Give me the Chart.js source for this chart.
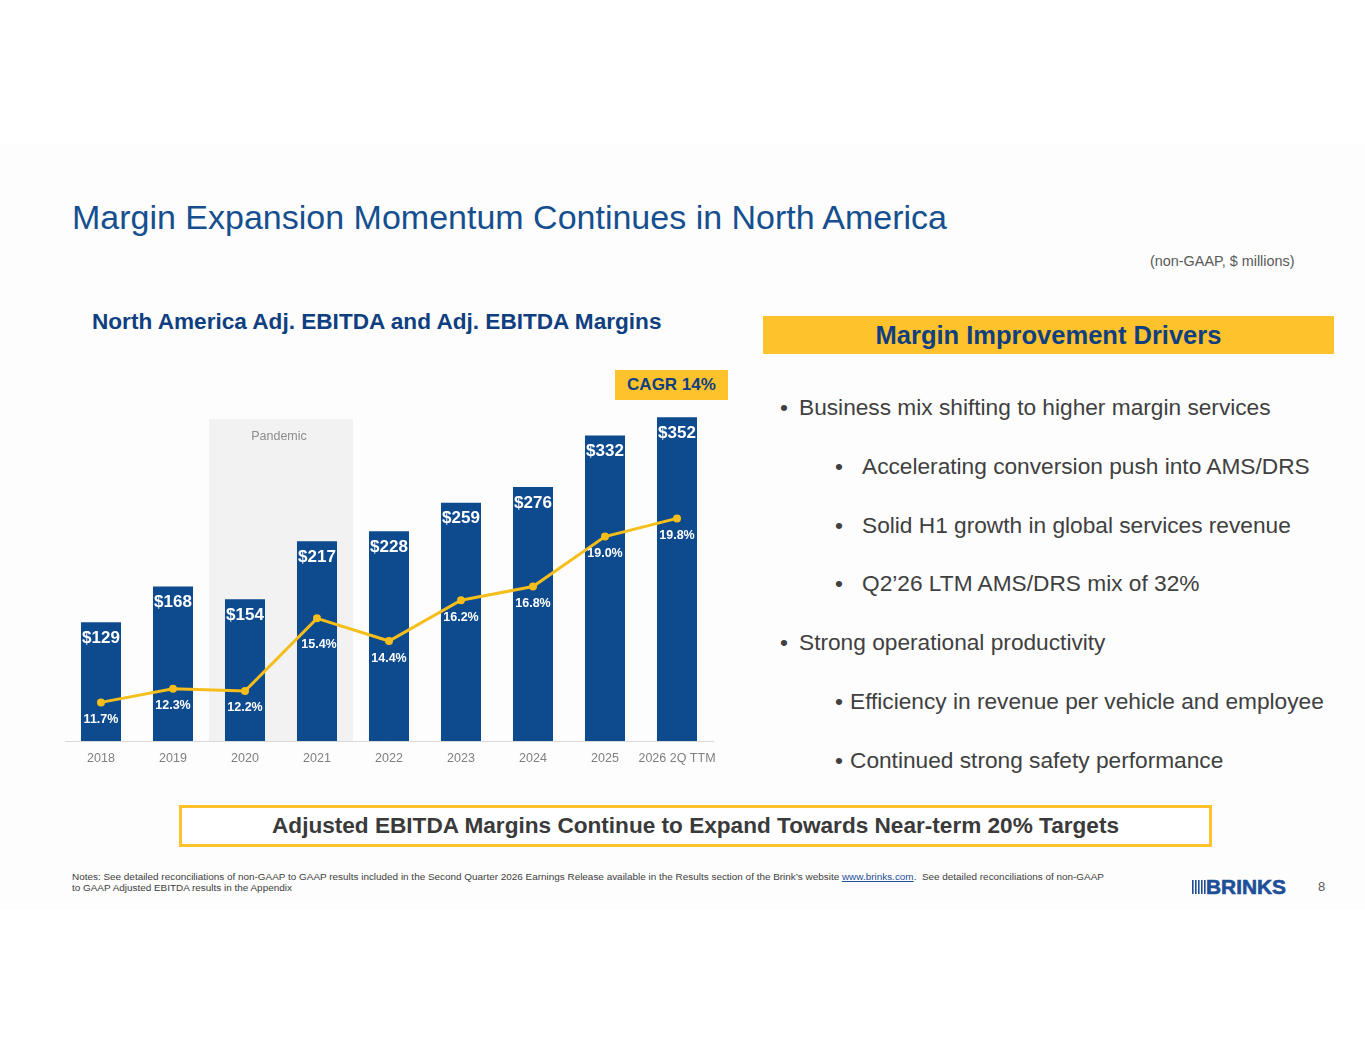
<!DOCTYPE html>
<html>
<head>
<meta charset="utf-8">
<script src="https://cdn.jsdelivr.net/npm/chart.js@4.4.1/dist/chart.umd.min.js"></script>
<style>
  html, body { margin:0; padding:0; background:#ffffff; }
  body { width:1365px; height:1055px; position:relative; overflow:hidden; font-family:"Liberation Sans", Arial, sans-serif; }
  .slide { position:absolute; left:0; top:145px; width:1365px; height:765px; background:#fcfdfc; }
  .abs { position:absolute; white-space:nowrap; }
  #title { left:72px; top:198px; font-size:34px; color:#164f8f; }
  #units { left:1150px; top:253px; font-size:14.4px; color:#595959; }
  #subtitle { left:92px; top:309px; font-size:22.6px; font-weight:bold; color:#0f3f80; }
  #drivers { left:763px; top:316px; width:571px; height:38px; background:#fdc22c; color:#0f3f80; font-weight:bold; font-size:25.5px; text-align:center; line-height:38px; }
  #cagr { left:615px; top:370px; width:113px; height:30px; background:#fdc22c; color:#0f3f80; font-weight:bold; font-size:17px; text-align:center; line-height:30px; }
  .bul { position:absolute; white-space:nowrap; font-size:22.7px; color:#404040; }
  .bul .dot { position:absolute; }
  #chartBox { position:absolute; left:61px; top:369px; width:672px; height:407px; }
  #bottomBox { left:179px; top:805px; width:1027px; height:36px; border:3px solid #fdc22c; background:#ffffff; text-align:center; line-height:36px; font-weight:bold; font-size:22.6px; color:#3a3a3a; }
  #notes { left:72px; top:871px; font-size:9.93px; color:#404040; line-height:11px; }
  #notes a { color:#1f4e99; text-decoration:underline; }
  #logo { left:1192px; top:877px; height:20px; }
  #page { left:1318px; top:879px; font-size:13px; color:#595959; }
</style>
</head>
<body>
<div class="slide"></div>
<div class="abs" id="title">Margin Expansion Momentum Continues in North America</div>
<div class="abs" id="units">(non-GAAP, $ millions)</div>
<div class="abs" id="subtitle">North America Adj. EBITDA and Adj. EBITDA Margins</div>
<div class="abs" id="drivers">Margin Improvement Drivers</div>
<div class="abs" id="cagr">CAGR 14%</div>

<div class="bul" style="left:780px; top:394px;"><span class="dot" style="left:0">•</span><span style="position:absolute; left:19px;">Business mix shifting to higher margin services</span></div>
<div class="bul" style="left:835px; top:453px;"><span class="dot" style="left:0">•</span><span style="position:absolute; left:27px;">Accelerating conversion push into AMS/DRS</span></div>
<div class="bul" style="left:835px; top:512px;"><span class="dot" style="left:0">•</span><span style="position:absolute; left:27px;">Solid H1 growth in global services revenue</span></div>
<div class="bul" style="left:835px; top:570px;"><span class="dot" style="left:0">•</span><span style="position:absolute; left:27px;">Q2’26 LTM AMS/DRS mix of 32%</span></div>
<div class="bul" style="left:780px; top:629px;"><span class="dot" style="left:0">•</span><span style="position:absolute; left:19px;">Strong operational productivity</span></div>
<div class="bul" style="left:835px; top:688px;"><span class="dot" style="left:0">•</span><span style="position:absolute; left:15px;">Efficiency in revenue per vehicle and employee</span></div>
<div class="bul" style="left:835px; top:747px;"><span class="dot" style="left:0">•</span><span style="position:absolute; left:15px;">Continued strong safety performance</span></div>

<div id="chartBox"><canvas id="c"></canvas></div>

<div class="abs" id="bottomBox">Adjusted EBITDA Margins Continue to Expand Towards Near-term 20% Targets</div>
<div class="abs" id="notes">Notes: See detailed reconciliations of non-GAAP to GAAP results included in the Second Quarter 2026 Earnings Release available in the Results section of the Brink’s website <a>www.brinks.com</a>.&nbsp; See detailed reconciliations of non-GAAP<br>to GAAP Adjusted EBITDA results in the Appendix</div>
<div class="abs" id="logo">
  <svg width="100" height="20" viewBox="0 0 100 20">
    <rect x="0" y="3" width="1.6" height="14" fill="#1f4e99"/>
    <rect x="3" y="3" width="1.6" height="14" fill="#1f4e99"/>
    <rect x="6" y="3" width="1.6" height="14" fill="#1f4e99"/>
    <rect x="9" y="3" width="1.6" height="14" fill="#1f4e99"/>
    <rect x="12" y="3" width="1.6" height="14" fill="#1f4e99"/>
    <text x="14" y="17" font-family="Liberation Sans, Arial" font-weight="bold" font-size="19.5" fill="#1f4e99" stroke="#1f4e99" stroke-width="0.6" textLength="80" lengthAdjust="spacingAndGlyphs">BRINKS</text>
  </svg>
</div>
<div class="abs" id="page">8</div>

<script>
const categories = ["2018", "2019", "2020", "2021", "2022", "2023", "2024", "2025", "2026 2Q TTM"];
const ebitda = [129, 168, 154, 217, 228, 259, 276, 332, 352];
const margins = [11.7, 12.3, 12.2, 15.4, 14.4, 16.2, 16.8, 19.0, 19.8];
const shadedFrom = "2020";
const shadedTo = "2021";
const shadedLabel = "Pandemic";

const BAR_COLOR = "#0e4a8e";
const LINE_COLOR = "#f6be1a";

const pandemicPlugin = {
  id: "pandemic",
  beforeDatasetsDraw(chart) {
    const x = chart.scales.x, y = chart.scales.y;
    const ctx = chart.ctx;
    const step = x.getPixelForValue(1) - x.getPixelForValue(0);
    const i0 = categories.indexOf(shadedFrom), i1 = categories.indexOf(shadedTo);
    const left = x.getPixelForValue(i0) - step / 2;
    const right = x.getPixelForValue(i1) + step / 2;
    const top = y.getPixelForValue(350);
    const bottom = y.getPixelForValue(0);
    ctx.save();
    ctx.fillStyle = "#f2f2f2";
    ctx.fillRect(left, top, right - left, bottom - top);
    ctx.fillStyle = "#8c8c8c";
    ctx.font = "12.5px 'Liberation Sans', Arial, sans-serif";
    ctx.textAlign = "center";
    ctx.textBaseline = "middle";
    ctx.fillText(shadedLabel, (left + right) / 2 - 2, top + 18);
    ctx.restore();
  }
};

const labelPlugin = {
  id: "valueLabels",
  afterDatasetsDraw(chart) {
    const ctx = chart.ctx;
    ctx.save();
    ctx.fillStyle = "#ffffff";
    ctx.textAlign = "center";
    ctx.textBaseline = "middle";
    const barMeta = chart.getDatasetMeta(1);
    ctx.font = "bold 17px 'Liberation Sans', Arial, sans-serif";
    barMeta.data.forEach((el, i) => {
      ctx.fillText("$" + ebitda[i], el.x, el.y + 16);
    });
    const lineMeta = chart.getDatasetMeta(0);
    ctx.font = "bold 12.5px 'Liberation Sans', Arial, sans-serif";
    lineMeta.data.forEach((el, i) => {
      const off = (i === 3) ? 26 : 17;
      ctx.fillText(margins[i].toFixed(1) + "%", el.x + (i === 3 ? 2 : 0), el.y + off);
    });
    ctx.restore();
  }
};

new Chart(document.getElementById("c"), {
  data: {
    labels: categories,
    datasets: [
      {
        type: "line",
        label: "Adj. EBITDA Margin",
        data: margins,
        yAxisID: "y1",
        borderColor: LINE_COLOR,
        backgroundColor: LINE_COLOR,
        borderWidth: 3,
        pointRadius: 4,
        pointBackgroundColor: LINE_COLOR,
        pointBorderWidth: 0,
        tension: 0,
        order: 0
      },
      {
        type: "bar",
        label: "Adj. EBITDA",
        data: ebitda,
        yAxisID: "y",
        backgroundColor: BAR_COLOR,
        categoryPercentage: 1.0,
        barPercentage: 0.556,
        order: 1
      }
    ]
  },
  options: {
    responsive: true,
    maintainAspectRatio: false,
    animation: false,
    layout: { padding: { left: 0, right: 20, top: 0, bottom: 0 } },
    plugins: { legend: { display: false }, tooltip: { enabled: false } },
    scales: {
      x: {
        offset: true,
        grid: { display: false, drawTicks: false },
        border: { display: true, color: "#d9d9d9", width: 1 },
        ticks: {
          color: "#7f7f7f",
          font: { family: "'Liberation Sans', Arial, sans-serif", size: 12.5 },
          padding: 10,
          maxRotation: 0,
          minRotation: 0,
          autoSkip: false
        }
      },
      y: { display: false, min: 0, max: 400 },
      y1: { display: false, min: 10, max: 26.2 }
    }
  },
  plugins: [pandemicPlugin, labelPlugin]
});
</script>
</body>
</html>
